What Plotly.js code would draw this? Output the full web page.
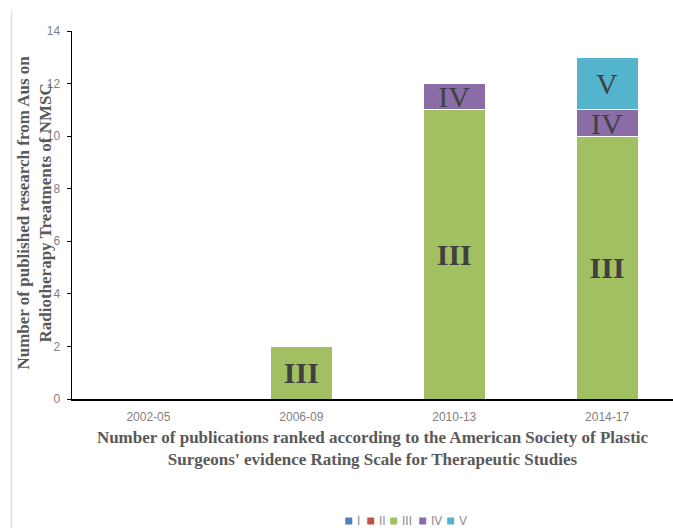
<!DOCTYPE html>
<html>
<head>
<meta charset="utf-8">
<script src="https://cdn.plot.ly/plotly-3.0.1.min.js"></script>
<style>html,body{margin:0;padding:0;background:#fff;}#chart{width:673px;height:528px;}</style>
</head>
<body>
<div id="chart"></div>
<script>
var categories = ['2002-05', '2006-09', '2010-13', '2014-17'];
var seriesNames = ['I', 'II', 'III', 'IV', 'V'];
var valsI = [0, 0, 0, 0];
var valsII = [0, 0, 0, 0];
var valsIII = [0, 2, 11, 10];
var valsIV = [0, 0, 1, 1];
var valsV = [0, 0, 0, 2];
var yTicks = [0, 2, 4, 6, 8, 10, 12, 14];

var allVals = [valsI, valsII, valsIII, valsIV, valsV];
var colors = ['#4F81BD', '#C0504D', '#A2BF62', '#8A6CA7', '#55B4CD'];
var textWeights = ['normal', 'normal', 'bold', 'normal', 'normal'];

var traces = allVals.map(function (vals, i) {
  return {
    type: 'bar',
    name: seriesNames[i],
    x: categories,
    y: vals.map(function (v) { return v === 0 ? null : v; }),
    text: vals.map(function (v) { return v === 0 ? '' : seriesNames[i]; }),
    textposition: 'inside',
    insidetextanchor: 'middle',
    constraintext: 'none',
    textangle: 0,
    textfont: { family: 'Liberation Serif, Times New Roman, serif', size: 30, color: '#404040', weight: textWeights[i] },
    hoverinfo: 'skip',
    showlegend: false,
    marker: { color: colors[i], line: { color: '#ffffff', width: 1 } },
    width: 0.405
  };
});

var tickFont = { family: 'Liberation Sans Narrow, Liberation Sans, sans-serif', size: 12, color: '#7f7f7f' };
var titleFont = { family: 'Liberation Serif, Times New Roman, serif', size: 17, color: '#595959', weight: 'bold' };

// plot-area geometry (pixels)
var L = 71.5, R = 673, T = 31, B = 399;
var PW = R - L, PH = B - T;
function px(x) { return (x - L) / PW; }
function py(y) { return (B - y) / PH; }

// manual legend (compact, like the original)
var legendLeft = [345, 367, 390, 419, 447];
var legendY = 521;
var shapes = [{
  type: 'line', xref: 'paper', yref: 'paper',
  x0: px(11), x1: px(11), y0: py(11), y1: py(528),
  line: { color: '#dedede', width: 1.5 }
}];
var annotations = [{
  xref: 'paper', yref: 'paper', x: px(33), y: py(213),
  xanchor: 'center', yanchor: 'middle', textangle: -90, showarrow: false,
  text: 'Number of published research from Aus on<br>Radiotherapy Treatments of NMSC',
  font: titleFont
}];
seriesNames.forEach(function (name, i) {
  shapes.push({
    type: 'rect', xref: 'paper', yref: 'paper', layer: 'above',
    x0: px(legendLeft[i]), x1: px(legendLeft[i] + 7),
    y0: py(legendY + 3.5), y1: py(legendY - 3.5),
    fillcolor: colors[i], line: { width: 0 }
  });
  annotations.push({
    xref: 'paper', yref: 'paper', x: px(legendLeft[i] + 10), y: py(legendY),
    xanchor: 'left', yanchor: 'middle', showarrow: false,
    text: name, font: { family: 'Liberation Sans, Arial, sans-serif', size: 12, color: '#8c8c8c' }
  });
});

var layout = {
  width: 673,
  height: 528,
  barmode: 'stack',
  paper_bgcolor: '#ffffff',
  plot_bgcolor: '#ffffff',
  margin: { l: L, r: 673 - R, t: T, b: 528 - B },
  font: { family: 'Liberation Sans, Arial, sans-serif', color: '#595959' },
  showlegend: false,
  xaxis: {
    type: 'category',
    range: [-0.5, 3.431],
    showline: true,
    linecolor: '#000000',
    linewidth: 1.5,
    ticks: '',
    showgrid: false,
    zeroline: false,
    ticklabelstandoff: 6,
    tickfont: tickFont,
    automargin: false,
    title: {
      text: "Number of publications ranked according to the American Society of Plastic<br>Surgeons' evidence Rating Scale for Therapeutic Studies",
      font: titleFont,
      standoff: 8
    }
  },
  yaxis: {
    range: [0, 14],
    tickvals: yTicks,
    ticktext: yTicks.map(String),
    showline: true,
    linecolor: '#000000',
    linewidth: 1.5,
    ticks: 'outside',
    ticklen: 4,
    tickcolor: '#000000',
    ticklabelstandoff: 4,
    showgrid: false,
    zeroline: false,
    automargin: false,
    tickfont: tickFont
  },
  shapes: shapes,
  annotations: annotations
};

Plotly.newPlot('chart', traces, layout, { displayModeBar: false, staticPlot: true });
</script>
</body>
</html>
